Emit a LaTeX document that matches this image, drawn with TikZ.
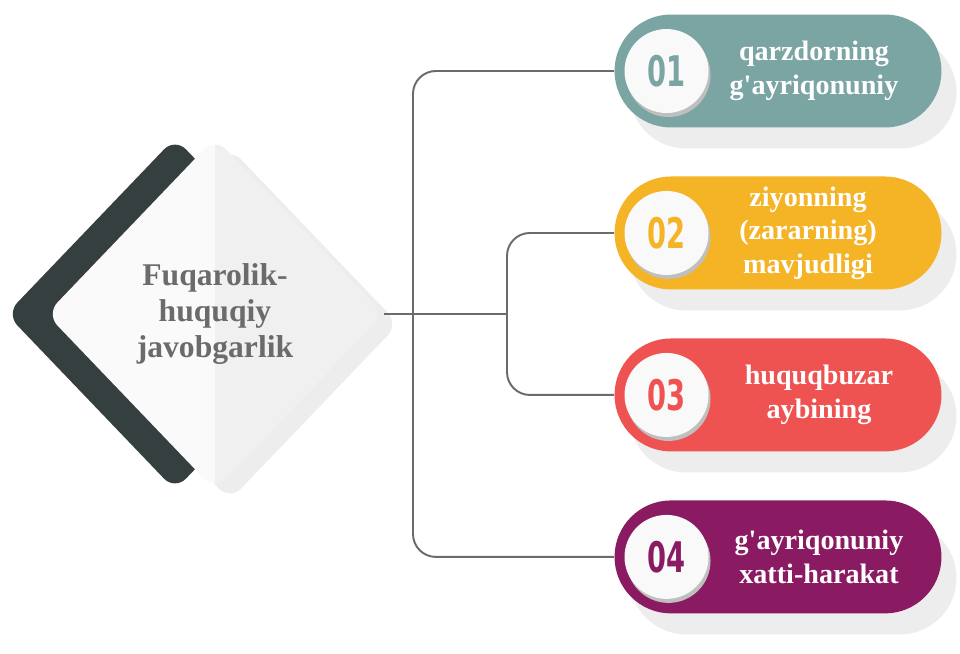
\documentclass[tikz,border=0pt]{standalone}
\usepackage{fontspec}
\setmainfont{Liberation Serif}[Ligatures=TeXOff]
\newfontfamily\numfont{DejaVu Sans Condensed}[FakeStretch=0.72]
\usetikzlibrary{shapes.geometric, shapes.misc, positioning, backgrounds}

\definecolor{tealc}{HTML}{7AA5A3}
\definecolor{yellowc}{HTML}{F5B326}
\definecolor{redc}{HTML}{EE5351}
\definecolor{purplec}{HTML}{8A1B62}
\definecolor{darkc}{HTML}{353F3F}
\definecolor{linec}{HTML}{6B6B6B}

\begin{document}
\begin{tikzpicture}[x=0.02cm, y=-0.02cm, node distance=3.24cm,
    hubshape/.style={diamond, minimum width=6.75cm, minimum height=7.05cm, inner sep=0pt, rounded corners=9pt},
    pill/.style={rounded rectangle, minimum width=6.54cm, minimum height=2.26cm, inner sep=0pt},
    pillshadow/.style={pill, fill=black!7},
    num/.style={circle, minimum size=1.68cm, inner sep=0pt, fill=gray!5, font=\numfont\bfseries\fontsize{24}{24}\selectfont},
    pilltext/.style={text=white, align=center, font=\bfseries\fontsize{16}{19}\selectfont},
    conn/.style={draw=linec, line width=1.1pt, rounded corners=13pt}]
    \useasboundingbox (0,0) rectangle (960,653);

    % Diamond
    \node (hubshadow) [hubshape, fill=black!7] at (230,324) {};
    \begin{scope}
        \clip (0,0) rectangle (195,653);
        \node (chevron) [hubshape, fill=darkc] at (175,314) {};
    \end{scope}
    \begin{scope}
        \clip (0,0) rectangle (215,653);
        \node (hubleft) [hubshape, fill=gray!4] at (215,314) {};
    \end{scope}
    \begin{scope}
        \clip (215,0) rectangle (400,653);
        \node (hubright) [hubshape, fill=gray!12] at (215,314) {};
    \end{scope}
    \node (hub) [hubshape, text=linec, align=center, font=\bfseries\fontsize{18}{20.5}\selectfont] at (215,314) {Fuqarolik-\\huquqiy\\javobgarlik};

    % Pills
    \node (p1) [pill, fill=tealc] at (778,71) {};
    \node (p2) [pill, fill=yellowc, below of=p1] {};
    \node (p3) [pill, fill=redc, below of=p2] {};
    \node (p4) [pill, fill=purplec, below of=p3] {};

    \begin{scope}[on background layer]
        \fill[white] (0,0) rectangle (960,653);
        \node (s1) [pillshadow] at ([shift={(0.3cm,-0.42cm)}]p1) {};
        \node (s2) [pillshadow] at ([shift={(0.3cm,-0.42cm)}]p2) {};
        \node (s3) [pillshadow] at ([shift={(0.3cm,-0.42cm)}]p3) {};
        \node (s4) [pillshadow] at ([shift={(0.3cm,-0.42cm)}]p4) {};
    \end{scope}

    % Numbers
    \node (c1) [num, fill=black!25, right=0.24cm of p1.west, yshift=-0.08cm] {};
    \node (n1) [num, text=tealc, right=0.2cm of p1.west] {01};
    \node (c2) [num, fill=black!25, right=0.24cm of p2.west, yshift=-0.08cm] {};
    \node (n2) [num, text=yellowc, right=0.2cm of p2.west] {02};
    \node (c3) [num, fill=black!25, right=0.24cm of p3.west, yshift=-0.08cm] {};
    \node (n3) [num, text=redc, right=0.2cm of p3.west] {03};
    \node (c4) [num, fill=black!25, right=0.24cm of p4.west, yshift=-0.08cm] {};
    \node (n4) [num, text=purplec, right=0.2cm of p4.west] {04};

    % Texts
    \node (t1) [pilltext, xshift=0.72cm] at (p1) {qarzdorning\\g'ayriqonuniy};
    \node (t2) [pilltext, xshift=0.6cm] at (p2) {ziyonning\\(zararning)\\mavjudligi};
    \node (t3) [pilltext, xshift=0.82cm] at (p3) {huquqbuzar\\aybining};
    \node (t4) [pilltext, xshift=0.82cm] at (p4) {g'ayriqonuniy\\xatti-harakat};

    % Lines
    \coordinate (trunk) at (413,314);
    \coordinate (fork) at (507,314);
    \draw[conn] (p1.west) -| (trunk) |- (p4.west);
    \draw[conn] (p2.west) -| (fork) |- (p3.west);
    \draw[conn] (hub.east) -- (fork);
\end{tikzpicture}
\end{document}
